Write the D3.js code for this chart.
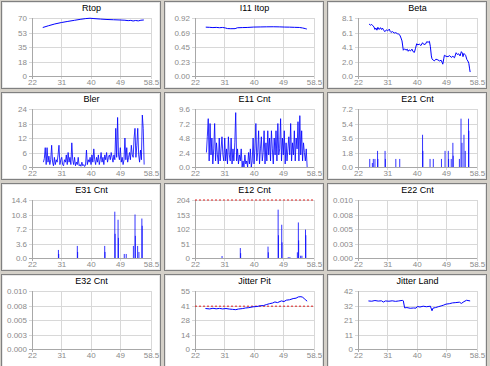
<!DOCTYPE html>
<html>
<head>
<meta charset="utf-8">
<script src="https://cdn.jsdelivr.net/npm/d3@7"></script>
<style>
body { margin: 0; background: #d4d0c8; }
svg { display: block; font-family: "Liberation Sans", Arial, sans-serif; }
</style>
</head>
<body>
<svg id="chart" width="490" height="366"></svg>
<script>
// x axis shared by all panels
const xTicks = [22, 31, 40, 49, 58.5];
const xTickLabels = ["22", "31", "40", "49", "58.5"];
const xRange = [25.5, 56.4]; // span of the evenly sampled noisy series

const titles = ["Rtop", "I11 Itop", "Beta", "Bler", "E11 Cnt", "E21 Cnt",
    "E31 Cnt", "E12 Cnt", "E22 Cnt", "E32 Cnt", "Jitter Pit", "Jitter Land"];
const yMaxes = [70, 0.92, 8.1, 24, 9.6, 7.2, 14.4, 204, 0.010, 0.010, 55, 42];
const yTickLabels = [
    ["0", "18", "35", "53", "70"],
    ["0.00", "0.23", "0.45", "0.69", "0.92"],
    ["0.0", "2.0", "4.1", "6.1", "8.1"],
    ["0", "6", "12", "18", "24"],
    ["0.0", "2.4", "4.8", "7.2", "9.6"],
    ["0.0", "1.8", "3.6", "5.4", "7.2"],
    ["0.0", "3.6", "7.2", "10.8", "14.4"],
    ["0", "51", "102", "153", "204"],
    ["0.000", "0.003", "0.005", "0.008", "0.010"],
    ["0.000", "0.003", "0.005", "0.008", "0.010"],
    ["0", "14", "28", "41", "55"],
    ["0", "11", "21", "32", "42"]
];

// series: [x, value]
const rtop = [[25.3, 58.5], [27, 60.6], [29, 62.8], [31, 64.5], [33, 65.9], [35, 67.2],
    [37, 68.5], [38.5, 69.3], [39.8, 69.7], [41, 69.3], [43, 68.7], [45, 68.2], [47, 67.9],
    [49, 67.6], [50.5, 67.3], [51.5, 66.8], [52.3, 67.1], [53, 66.4], [53.8, 67.0],
    [54.6, 66.5], [55.4, 67.3], [56.3, 67.6]];

const i11Itop = [[25.3, 0.775], [26.5, 0.772], [27.5, 0.768], [28.5, 0.771], [29.5, 0.766],
    [30.5, 0.770], [31.3, 0.762], [32, 0.752], [33, 0.750], [34.3, 0.751], [35, 0.765],
    [36.5, 0.768], [38, 0.770], [40, 0.776], [42, 0.778], [44, 0.780], [46, 0.781],
    [48, 0.779], [49.5, 0.776], [51, 0.775], [52.5, 0.772], [54, 0.770], [55, 0.762],
    [55.8, 0.752], [56.3, 0.745]];

const beta = [[25.4, 7.26], [25.8, 7.1], [26.2, 7.2], [26.6, 7.0], [26.9, 6.85], [27.2, 6.5],
    [27.5, 6.7], [27.8, 6.4], [28.1, 6.8], [28.5, 6.5], [28.9, 6.75], [29.2, 6.5], [29.5, 6.7],
    [29.9, 6.35], [30.3, 6.2], [30.7, 6.45], [31.1, 6.3], [31.6, 6.55], [31.9, 6.2],
    [32.1, 6.1], [32.6, 6.2], [33.1, 6.0], [33.6, 6.05], [34.1, 5.9], [34.5, 5.85],
    [34.85, 5.7], [35.2, 5.3], [35.5, 4.9], [35.9, 3.6], [36.3, 3.8], [36.7, 3.6],
    [37.1, 3.75], [37.4, 3.45], [37.7, 3.65], [38.1, 3.5], [38.55, 3.75], [38.9, 3.4],
    [39.3, 3.3], [39.6, 3.8], [40.0, 4.5], [40.4, 4.35], [40.8, 4.45], [41.3, 4.25],
    [41.8, 4.65], [42.2, 4.4], [42.7, 4.45], [43.1, 4.8], [43.5, 4.7], [43.9, 4.85],
    [44.2, 4.1], [44.5, 2.8], [44.7, 2.4], [45.1, 2.2], [45.4, 2.1], [45.9, 2.35],
    [46.5, 2.25], [47.0, 2.1], [47.5, 2.2], [47.8, 1.9], [48.0, 1.65], [48.3, 2.4],
    [48.5, 2.9], [49.0, 2.75], [49.6, 2.7], [50.1, 2.85], [50.6, 2.6], [51.1, 2.75],
    [51.6, 2.55], [52.1, 3.25], [52.5, 3.0], [52.9, 3.1], [53.3, 2.8], [53.7, 3.4],
    [54.0, 3.2], [54.2, 2.7], [54.5, 3.15], [54.8, 3.0], [55.0, 2.9], [55.4, 2.3],
    [55.7, 2.1], [56.0, 1.75], [56.2, 1.1], [56.4, 0.55]];

// evenly sampled over xRange
const bler = [
    2, 3.5, 8, 1, 8, 2, 4.5, 1, 3, 9,
    2, 0.5, 4, 1, 3, 2, 5, 9, 1, 3,
    4, 1, 0.5, 3, 2, 5, 1, 6, 2, 4,
    1, 10, 3, 1, 4, 0.5, 2, 1, 4, 0.5,
    1, 0.3, 2, 0.5, 1, 0.2, 0.8, 7, 1, 3,
    2, 4, 1, 5, 2, 7.5, 3, 1, 4, 2,
    5, 1, 3, 6, 2, 4, 1, 5, 3, 6,
    2, 4, 5, 3, 6, 4, 2, 5, 3, 16,
    4, 20.5, 5, 3, 8, 2, 4, 1, 3, 12,
    3, 8, 2, 4, 6, 3, 9, 5, 4, 12,
    16, 4, 9, 16, 5, 2, 7, 3, 21.5, 16,
    1];

const e11Cnt = [
    2.4, 5, 8, 1, 7.2, 2, 4.8, 0.5, 3, 7.2,
    1, 4, 2, 0.5, 4.8, 1, 3, 5, 2, 1,
    4.8, 1, 3, 0.5, 5, 2, 1, 4.8, 0.5, 3,
    1, 4, 9, 1, 3, 0.5, 2, 1, 3, 0,
    1, 0, 2, 0.5, 1, 0, 2.4, 0.5, 3, 0,
    1, 4.8, 0.5, 3, 7.2, 1, 2.4, 6, 0.5, 3,
    5, 1, 2.4, 6, 0.5, 4, 1, 6, 2, 4.8,
    1, 6, 3, 0.5, 4.8, 2, 6, 1, 7.2, 2,
    3, 8, 1, 4.8, 2, 6, 0.5, 4, 1, 3,
    5, 2, 7.2, 1, 4, 2, 6, 1, 4.8, 3,
    7.5, 1, 8.5, 2, 6, 1, 4, 2.4, 1, 3,
    0];

// spikes: [x, value]
const e21Cnt = [[25.6, 1.0], [26.4, 0.5], [26.7, 1.0], [27.2, 1.0], [28.0, 2.0], [28.1, 1.0],
    [30.3, 2.0], [30.4, 1.0], [33.6, 1.0], [34.8, 1.0], [41.8, 4.0], [41.9, 2.0],
    [44.1, 1.0], [45.1, 1.0], [47.6, 1.0], [48.7, 2.0], [49.7, 2.0], [49.8, 1.0],
    [50.6, 1.0], [51.1, 3.0], [51.2, 1.4], [53.1, 1.0], [53.6, 6.0], [53.9, 3.0],
    [54.5, 4.0], [54.9, 2.0], [55.9, 6.0], [56.0, 4.5]];

const e31Cnt = [[30.1, 2.0], [30.2, 1.0], [35.9, 3.0], [36.0, 1.5], [44.3, 3.0], [44.4, 1.5],
    [47.4, 11.5], [47.5, 6.0], [48.4, 9.5], [48.5, 5.0], [50.3, 1.0], [50.9, 1.0],
    [53.1, 3.0], [53.6, 10.8], [53.7, 5.5], [54.4, 3.0], [54.8, 1.5], [55.7, 9.8], [55.8, 8.0]];

const e12Cnt = [[30.3, 7], [35.9, 35], [36.0, 17], [44.4, 40], [44.5, 20], [47.5, 170],
    [47.6, 80], [48.6, 117], [48.7, 55], [50.6, 3], [51.1, 3], [53.4, 20], [53.7, 125],
    [53.8, 62], [54.4, 8], [54.8, 8], [55.9, 100], [56.0, 80]];
const e12Limit = 204;

const jitterPit = [[25.2, 38.4], [26.5, 38.0], [27.5, 38.6], [28.5, 38.1], [29.5, 38.5],
    [30.5, 38.0], [31.5, 38.4], [32.5, 37.9], [33.5, 37.6], [34.5, 37.3], [35.3, 37.9],
    [36.5, 38.3], [37.5, 38.9], [38.5, 39.2], [39.8, 40.0], [41, 40.3], [42, 41.0],
    [43, 41.2], [44, 42.2], [44.9, 43.0], [45.8, 43.6], [46.5, 44.6], [47.3, 44.0],
    [48.5, 45.6], [49.3, 45.0], [50, 46.3], [51, 46.7], [52.1, 47.8], [53, 48.2],
    [53.7, 49.4], [54.5, 49.6], [55.0, 49.1], [55.5, 47.8], [56.0, 46.4], [56.4, 45.3]];
const jitterPitLimit = 40.6;

const jitterLand = [[25.2, 34.8], [26.2, 34.6], [27.2, 35.1], [28.2, 34.7], [29.2, 34.9],
    [29.8, 34.0], [30.4, 34.8], [31.5, 34.6], [32.5, 34.9], [33.5, 34.5], [34.5, 34.8],
    [35.6, 35.2], [35.9, 34.9], [36.3, 29.8], [37, 30.0], [38, 29.5], [39, 29.7],
    [39.8, 29.6], [40.2, 30.8], [41, 30.4], [42, 31.0], [43, 30.6], [44.2, 31.0],
    [44.7, 27.7], [45.0, 29.6], [45.8, 30.0], [46.6, 30.6], [47.5, 31.2], [48.3, 31.8],
    [49, 32.5], [50, 32.8], [51, 33.4], [52, 33.6], [53.1, 33.9], [53.7, 33.0],
    [54.5, 34.3], [55.3, 35.3], [56.4, 34.8]];

const charts = titles.map((title, i) => ({ title, yMax: yMaxes[i], yLabels: yTickLabels[i] }));
charts[0].line = rtop;
charts[1].line = i11Itop;
charts[2].line = beta;
charts[3].samples = bler;
charts[4].samples = e11Cnt;
charts[5].spikes = e21Cnt;
charts[6].spikes = e31Cnt;
charts[7].spikes = e12Cnt;
charts[7].limit = e12Limit;
charts[10].line = jitterPit;
charts[10].limit = jitterPitLimit;
charts[11].line = jitterLand;

const colStep = 163, rowStep = 91;
const plot = { left: 32, right: 151, top: 18, bottom: 76 };
const pw = plot.right - plot.left, ph = plot.bottom - plot.top;

const svg = d3.select("#chart");

charts.forEach((c, i) => {
    const col = i % 3, row = Math.floor(i / 3);
    const g = svg.append("g").attr("transform", `translate(${col * colStep},${row * rowStep})`);

    // panel frame
    g.append("rect")
        .attr("x", 1.5).attr("y", 1.5)
        .attr("width", 159).attr("height", row === 3 ? 100 : 87)
        .attr("fill", "#fff").attr("stroke", "#808080");
    g.append("rect")
        .attr("x", 2.5).attr("y", 2.5)
        .attr("width", 157).attr("height", row === 3 ? 100 : 85)
        .attr("fill", "none").attr("stroke", "#e8e8e8");

    const x = d3.scaleLinear().domain([22, 58.5]).range([plot.left, plot.right]);
    const y = d3.scaleLinear().domain([0, c.yMax]).range([plot.bottom, plot.top]);
    const yTicks = c.yLabels.map((d, k) => c.yMax * k / 4);

    // grid + axes
    const yAxis = g.append("g")
        .attr("transform", `translate(${plot.left},0)`)
        .call(d3.axisLeft(y).tickValues(yTicks).tickSize(-pw).tickPadding(5)
            .tickFormat((d, k) => c.yLabels[k]));
    const xAxis = g.append("g")
        .attr("transform", `translate(0,${plot.bottom})`)
        .call(d3.axisBottom(x).tickValues(xTicks).tickSize(-ph).tickPadding(5)
            .tickFormat((d, k) => xTickLabels[k]));

    [yAxis, xAxis].forEach(a => {
        a.select(".domain").remove();
        a.selectAll("line").attr("stroke", "#d8d8d8").attr("shape-rendering", "crispEdges");
        a.selectAll("text").attr("fill", "#8a8a8a").style("font-size", "8px")
            .style("font-family", "'Liberation Sans', Arial, sans-serif");
    });
    yAxis.selectAll("line").attr("x1", -3);
    xAxis.selectAll("line").attr("y1", 3);
    xAxis.selectAll("text").attr("dy", "0.5em");

    // axis lines
    g.append("line")
        .attr("x1", plot.left).attr("x2", plot.left)
        .attr("y1", plot.top).attr("y2", plot.bottom + 3)
        .attr("stroke", "#a8a8a8").attr("shape-rendering", "crispEdges");
    g.append("line")
        .attr("x1", plot.left - 3).attr("x2", plot.right)
        .attr("y1", plot.bottom).attr("y2", plot.bottom)
        .attr("stroke", "#a8a8a8").attr("shape-rendering", "crispEdges");

    // title
    g.append("text")
        .attr("x", (plot.left + plot.right) / 2).attr("y", 11)
        .attr("text-anchor", "middle")
        .style("font-size", "9px").attr("fill", "#000")
        .text(c.title);

    if (c.limit !== undefined) {
        g.append("line")
            .attr("x1", plot.left).attr("x2", plot.right)
            .attr("y1", y(c.limit)).attr("y2", y(c.limit))
            .attr("stroke", "#e02020").attr("stroke-width", 1)
            .attr("stroke-dasharray", "2,2");
    }

    const line = d3.line().x(d => x(d[0])).y(d => y(d[1]));

    if (c.line) {
        g.append("path").datum(c.line)
            .attr("d", line)
            .attr("fill", "none").attr("stroke", "#0000ff").attr("stroke-width", 1);
    }
    if (c.samples) {
        const xi = d3.scaleLinear().domain([0, c.samples.length - 1]).range(xRange);
        g.append("path").datum(c.samples)
            .attr("d", d3.line().x((d, k) => x(xi(k))).y(d => y(d)))
            .attr("fill", "none").attr("stroke", "#0000ff").attr("stroke-width", 0.8);
    }
    if (c.spikes) {
        g.append("g").selectAll("line")
            .data(c.spikes)
            .join("line")
            .attr("x1", d => x(d[0])).attr("x2", d => x(d[0]))
            .attr("y1", y(0)).attr("y2", d => y(d[1]))
            .attr("stroke", "#0000ff").attr("stroke-width", 1)
            .attr("stroke-opacity", 0.8);
    }
});
</script>
</body>
</html>
